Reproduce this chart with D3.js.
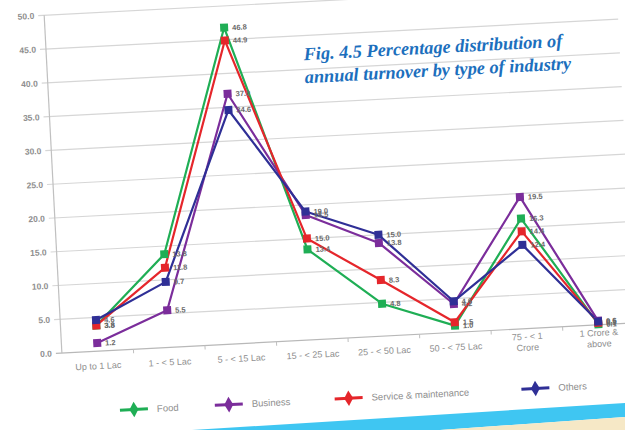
<!DOCTYPE html>
<html><head><meta charset="utf-8">
<script src="https://cdn.jsdelivr.net/npm/d3@7"></script>
<style>body{margin:0;background:#fff;overflow:hidden}</style></head>
<body><svg id="c" width="625" height="430"></svg>
<script>
const categories = ["Up to 1 Lac","1 - < 5 Lac","5 - < 15 Lac","15 - < 25 Lac","25 - < 50 Lac","50 - < 75 Lac","75 - < 1\nCrore","1 Crore &\nabove"];
const seriesNames = ["Food","Business","Service & maintenance","Others"];
const seriesColors = ["#1fae55","#7b2d9b","#e5262b","#2f2f96"];
const food     = [3.8, 13.8, 46.8, 13.4, 4.8, 1.0, 16.3, 0.1];
const business = [1.2, 5.5, 37.0, 18.5, 13.8, 4.2, 19.5, 0.6];
const service  = [3.8, 11.8, 44.9, 15.0, 8.3, 1.5, 14.4, 0.3];
const others   = [4.6, 9.7, 34.6, 19.0, 15.0, 4.6, 12.4, 0.5];
const yTicks = [0,5,10,15,20,25,30,35,40,45,50];
const titleLines = ["Fig. 4.5 Percentage distribution of","annual turnover by type of industry"];

const seriesValues = [food, business, service, others];
const svg = d3.select("#c");

// page decoration (photographed page edge)
svg.append("polygon").attr("points","192,430 625,403 625,417 440,430").attr("fill","#3fc6f2");
svg.append("polygon").attr("points","440,430 625,417 625,430").attr("fill","#f6e8c6");

const g = svg.append("g").attr("transform","rotate(-3,312,215)");

const x = d3.scaleBand().domain(categories).range([55, 628]);
const y = d3.scaleLinear().domain([0, 50]).range([339.7, 1.6]);
const cx = c => x(c) + x.bandwidth()/2;
const sans = "Liberation Sans, Arial, sans-serif";

// gridlines
g.append("g").selectAll("line").data(yTicks).join("line")
  .attr("x1", 49).attr("x2", 628)
  .attr("y1", d => y(d)).attr("y2", d => y(d))
  .attr("stroke", d => d === 0 ? "#b8b8b8" : "#d6d6d6").attr("stroke-width", 1.2);
// y axis
g.append("line").attr("x1",55).attr("x2",55).attr("y1",y(50)).attr("y2",y(0)).attr("stroke","#c0c0c0").attr("stroke-width",1.2);
g.append("g").selectAll("text").data(yTicks).join("text")
  .attr("x", 45).attr("y", d => y(d) + 3).attr("text-anchor","end")
  .attr("font-family",sans).attr("font-size",8.5).attr("font-weight","bold")
  .attr("fill","#8e8e8e").text(d3.format(".1f"));
// x ticks
g.append("g").selectAll("line").data(categories.slice(1)).join("line")
  .attr("x1", d => x(d)).attr("x2", d => x(d)).attr("y1", y(0)).attr("y2", y(0)+4)
  .attr("stroke","#c0c0c0");
// x labels
const xl = g.append("g").selectAll("text").data(categories).join("text")
  .attr("text-anchor","middle").attr("font-family",sans)
  .attr("font-size",9).attr("fill","#8e8e8e")
  .attr("transform", d => `translate(${cx(d)},${y(0)+ (d.includes("\n") ? 11 : 18)})`);
xl.selectAll("tspan").data(d => d.split("\n")).join("tspan")
  .attr("x",0).attr("dy",(d,i)=> i ? 11 : 0).text(d => d);

// lines
const line = d3.line().x((d,i) => cx(categories[i])).y(d => y(d));
seriesValues.forEach((vals, si) => {
  g.append("path").datum(vals).attr("d", line).attr("fill","none")
    .attr("stroke", seriesColors[si]).attr("stroke-width", 2.2).attr("stroke-linejoin","round");
});
seriesValues.forEach((vals, si) => {
  g.append("g").selectAll("rect").data(vals).join("rect")
    .attr("x",(d,i)=>cx(categories[i])-4).attr("y",d=>y(d)-4)
    .attr("width",8).attr("height",8).attr("fill",seriesColors[si]);
});
// value labels
seriesValues.forEach((vals, si) => {
  g.append("g").selectAll("text").data(vals).join("text")
    .attr("x",(d,i)=>cx(categories[i])+8).attr("y",d=>y(d)+3)
    .attr("font-family",sans).attr("font-size",7.5).attr("font-weight","bold")
    .attr("fill","#6a6a6a").text(d3.format(".1f"));
});

// legend
const legendX = [110, 205, 325, 512];
seriesNames.forEach((name, si) => {
  const lg = g.append("g").attr("transform", `translate(${legendX[si]},400)`);
  lg.append("line").attr("x1",0).attr("x2",28).attr("stroke",seriesColors[si]).attr("stroke-width",3);
  lg.append("path").attr("d", d3.symbol(d3.symbolDiamond, 70)()).attr("transform","translate(14,0)").attr("fill",seriesColors[si]);
  lg.append("text").attr("x",37).attr("y",3.5).attr("font-family",sans)
    .attr("font-size",9.5).attr("fill","#8e8e8e").text(name);
});

// title
g.append("g").selectAll("text").data(titleLines).join("text")
  .attr("x",312).attr("y",(d,i)=>60 + i*23)
  .attr("font-family","Liberation Serif, Times New Roman, serif").attr("font-style","italic")
  .attr("font-weight","bold").attr("font-size",18.3).attr("fill","#1c6fbd").text(d=>d);
</script></body></html>
